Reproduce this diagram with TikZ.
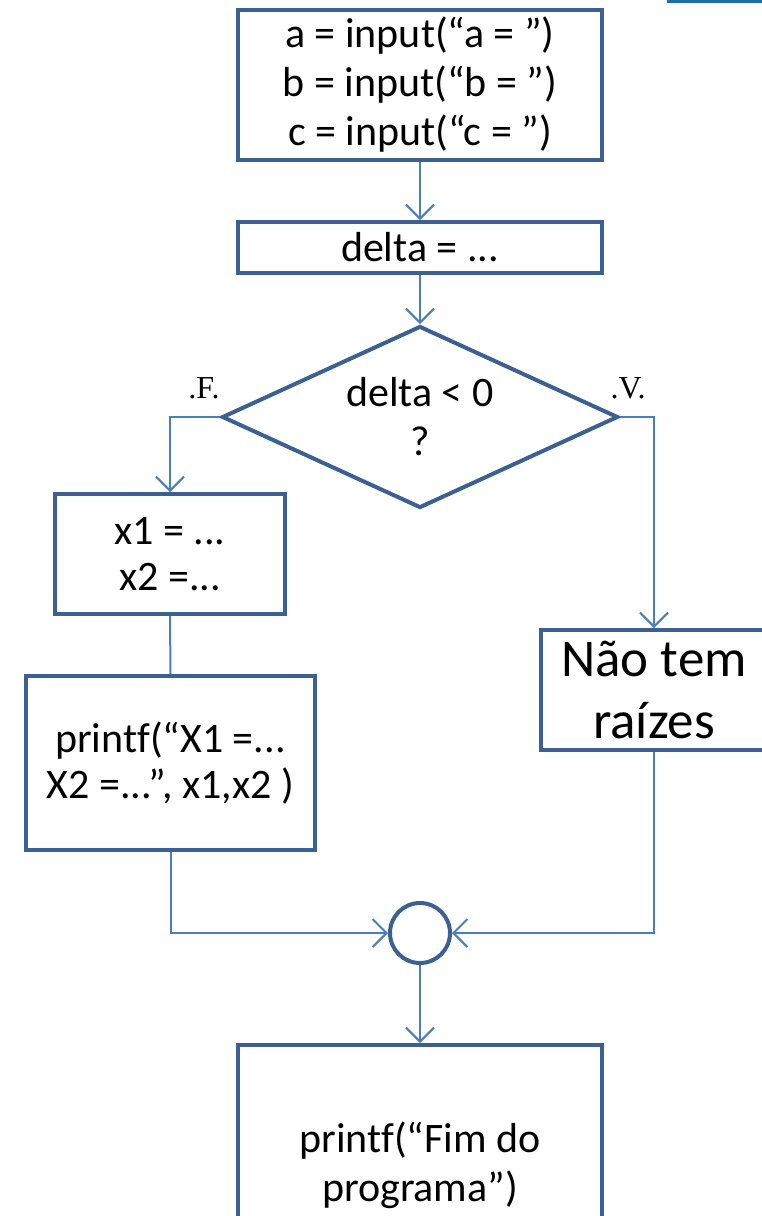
\documentclass[tikz,border=0pt]{standalone}
\usepackage{fontspec}
\setmainfont{Carlito}[Ligatures=NoCommon]
\newfontfamily\timesf{Liberation Serif}
\usetikzlibrary{arrows.meta,shapes.geometric}
\definecolor{boxc}{RGB}{60,96,145}
\definecolor{linec}{RGB}{74,126,187}
\definecolor{topc}{RGB}{30,110,170}
\begin{document}
\begin{tikzpicture}[x=1pt,y=-1pt,
  box/.style={draw=boxc, line width=4pt, fill=white, align=center, inner sep=0pt,
    font=\fontsize{42}{49}\selectfont},
  conn/.style={draw=linec, line width=2pt},
  arr/.style={conn, -{Straight Barb[length=14pt,width=28pt]}},
  lbl/.style={font=\timesf\fontsize{32}{34}\selectfont, inner sep=0pt}]
\useasboundingbox (0,0) rectangle (762,1216);
\clip (0,0) rectangle (762,1216);
\draw[topc, line width=3pt] (667,1) -- (762,1);
\node[box, minimum width=364pt, minimum height=150pt] (in) at (420,85)
  {a = input(“a = ”)\\b = input(“b = ”)\\c = input(“c = ”)};
\node[box, minimum width=364pt, minimum height=51pt] (d) at (420,247.5) {delta = ...};
\node[box, diamond, minimum width=396pt, minimum height=182pt,
  label={[align=center, font=\fontsize{42}{49}\selectfont, inner sep=0pt]center:delta < 0\\?}]
  (dec) at (420,417) {};
\node[lbl] (F) at (204,388) {.F.};
\node[lbl] (V) at (628,388) {.V.};
\node[box, minimum width=230pt, minimum height=120pt,
  font=\fontsize{42}{46}\selectfont] (x) at (170,554)
  {x1 = ...\\x2 =...};
\node[box, minimum width=289pt, minimum height=174pt,
  font=\fontsize{42}{46}\selectfont] (pr) at (170.5,763)
  {printf(“X1 =...\\X2 =...”, x1,x2 )};
\node[box, minimum width=226pt, minimum height=120pt,
  font=\fontsize{53}{62}\selectfont] (nao) at (654,690) {Não tem\\raízes};
\node[circle, draw=boxc, line width=4pt, fill=white, minimum size=60pt, inner sep=0pt] (j) at (420,933) {};
\node[box, minimum width=364pt, minimum height=240pt] (fim) at (420,1165)
  {printf(“Fim do\\programa”)};
\draw[arr] (in.south) -- (d.north);
\draw[arr] (d.south) -- (dec.north);
\draw[arr] (dec.west) -| (x.north);
\draw[arr] (dec.east) -| (nao.north);
\draw[conn] (x.south) -- (pr.north);
\draw[arr] (pr.south) |- (j.west);
\draw[arr] (nao.south) |- (j.east);
\draw[arr] (j.south) -- (fim.north);
\end{tikzpicture}
\end{document}
